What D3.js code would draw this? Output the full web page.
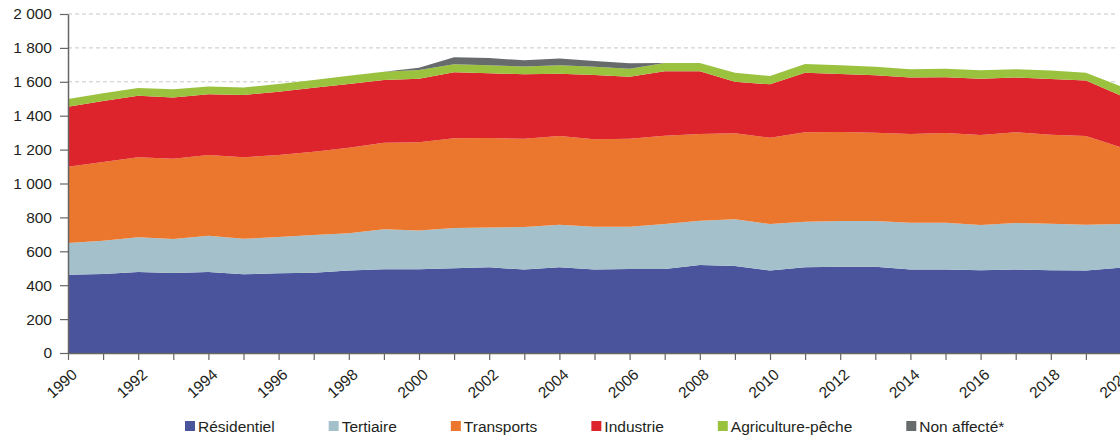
<!DOCTYPE html>
<html><head><meta charset="utf-8">
<script src="https://cdn.jsdelivr.net/npm/d3@7"></script>
<style>
body{margin:0;background:#fff;overflow:hidden;}
svg{display:block;font-family:"Liberation Sans",Arial,Helvetica,sans-serif;}
</style></head>
<body><svg id="chart" width="1120" height="435"></svg>
<script>
const years = d3.range(1990, 2021);
const residentiel = [462,466,478,472,478,464,470,474,486,494,494,500,506,492,506,492,496,496,519,513,486,506,509,509,492,492,488,492,488,486,503];
const tertiaire   = [187,196,205,201,214,210,214,222,220,236,228,237,235,251,251,253,249,265,261,276,275,269,270,270,277,277,267,275,275,271,258];
const transports  = [450,465,472,473,476,481,484,492,505,510,521,530,527,521,523,516,519,521,512,507,509,527,525,521,523,529,531,535,525,523,453];
const industrie   = [354,360,363,362,358,367,374,377,376,371,375,389,382,380,368,379,366,380,370,305,315,352,342,338,333,329,332,323,329,327,304];
const agriculture = [46,45,45,48,47,45,45,46,49,49,52,47,47,47,49,49,47,49,49,53,49,51,51,51,49,50,50,49,49,47,55];
const nonAffecte  = [0,0,0,0,0,0,0,0,0,0,13,42,43,36,41,34,32,0,0,0,0,0,0,0,0,0,0,0,0,0,0];
const seriesNames = ["Résidentiel","Tertiaire","Transports","Industrie","Agriculture-pêche","Non affecté*"];
const seriesColors = ["#49549d","#a4c1cb","#eb762d","#dd242c","#9bc23f","#676b6c"];
const yTicks = [0,200,400,600,800,1000,1200,1400,1600,1800,2000];

const seriesValues = [residentiel, tertiaire, transports, industrie, agriculture, nonAffecte];
const table = years.map((y,i)=>{const o={year:y}; seriesNames.forEach((n,k)=>o[n]=seriesValues[k][i]); return o;});

const svg = d3.select("#chart");
const x = d3.scaleLinear().domain([1990,2020]).range([68,1121]);
const y = d3.scaleLinear().domain([0,2000]).range([353,14]);
const fmt = d3.formatLocale({decimal:",",thousands:" ",grouping:[3],currency:["","€"]}).format(",");

// grid
svg.append("g").selectAll("line").data(yTicks.filter(d=>d>0)).join("line")
  .attr("x1",68).attr("x2",1116).attr("y1",d=>y(d)).attr("y2",d=>y(d))
  .attr("stroke","#c8c8c8").attr("stroke-width",1).attr("stroke-dasharray","4,3");

const stack = d3.stack().keys(seriesNames);
const layers = stack(table);
const area = d3.area().x(d=>x(d.data.year)).y0(d=>y(d[0])).y1(d=>y(d[1]));
svg.append("g").selectAll("path").data(layers).join("path")
  .attr("d",area).attr("fill",(d,i)=>seriesColors[i]);

// y axis
const yAxis = svg.append("g").attr("transform","translate(68,0)")
  .call(d3.axisLeft(y).tickValues(yTicks).tickFormat(fmt).tickSize(8).tickPadding(8).tickSizeOuter(0));
yAxis.select(".domain").attr("stroke","#666").attr("stroke-width",1.5);
yAxis.selectAll(".tick line").attr("stroke","#666").attr("stroke-width",1.2);
yAxis.selectAll("text").attr("font-size","15.5px").attr("fill","#231f20").attr("font-family","'Liberation Sans',Arial,sans-serif");

// x axis
const xAxis = svg.append("g").attr("transform","translate(0,353)")
  .call(d3.axisBottom(x).tickValues(years).tickFormat(d=>d%2===0?String(d):"").tickSize(7).tickSizeOuter(0));
xAxis.select(".domain").attr("stroke","#666").attr("stroke-width",1.5);
xAxis.selectAll(".tick line").attr("stroke","#666").attr("stroke-width",1.2);
xAxis.selectAll("text").attr("font-size","15.5px").attr("fill","#231f20")
  .attr("font-family","'Liberation Sans',Arial,sans-serif")
  .attr("text-anchor","end").attr("x",0).attr("y",0).attr("dy","0.35em")
  .attr("transform","translate(6,19) rotate(-42)");

// legend
const leg = svg.append("g").attr("font-size","15.5px").attr("fill","#231f20");
let lx = 185;
seriesNames.forEach((n,i)=>{
  const g = leg.append("g").attr("transform",`translate(${lx},0)`);
  g.append("rect").attr("x",0).attr("y",421).attr("width",10).attr("height",10).attr("fill",seriesColors[i]);
  const t = g.append("text").attr("x",13).attr("y",432).text(n);
  lx += 13 + t.node().getComputedTextLength() + 54;
});
</script></body></html>
